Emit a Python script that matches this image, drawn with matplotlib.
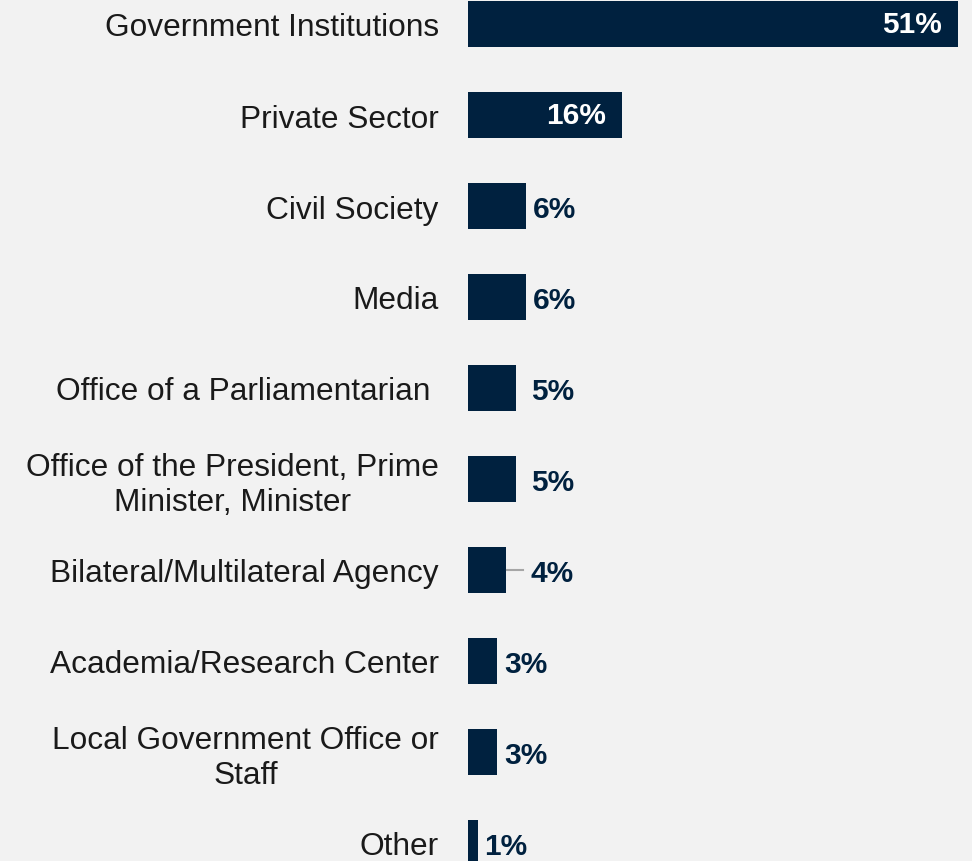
import matplotlib
matplotlib.use("Agg")
import matplotlib.pyplot as plt

categories = [
    "Government Institutions",
    "Private Sector",
    "Civil Society",
    "Media",
    "Office of a Parliamentarian ",
    "Office of the President, Prime\nMinister, Minister",
    "Bilateral/Multilateral Agency",
    "Academia/Research Center",
    "Local Government Office or\nStaff",
    "Other",
]
values = [51, 16, 6, 6, 5, 5, 4, 3, 3, 1]
value_labels = ["51%", "16%", "6%", "6%", "5%", "5%", "4%", "3%", "3%", "1%"]

BG = "#F2F2F2"
NAVY = "#00213F"
plt.rcParams["font.family"] = ["Liberation Sans", "DejaVu Sans"]

fig = plt.figure(figsize=(9.72, 8.62), dpi=100, facecolor=BG)
ax = fig.add_axes([468 / 972, 0, 490 / 972, 1], facecolor=BG)

ypos = list(range(len(categories)))
ax.barh(ypos, values, height=0.5, color=NAVY, edgecolor="none")

px = 51 / 490.0  # data units per pixel
for y, v, lab in zip(ypos, values, value_labels):
    if v >= 10:
        ax.text(v - 16 * px, y, lab, ha="right", va="center", color="white",
                fontsize=21.5, fontweight="bold")
    else:
        lx = v + 7 * px
        if 4 <= v < 6:
            lx = 6 + 5 * px
        if v == 4:
            ax.plot([v + 1 * px, lx - 8 * px], [y, y], color="#A6A6A6", lw=1.5)
        ax.text(lx, y + 0.03, lab, ha="left", va="center", color=NAVY,
                fontsize=21.5, fontweight="bold")

ax.set_xlim(0, 51)
top = -25 / 91
ax.set_ylim(top + 862 / 91, top)
ax.set_yticks(ypos)
ax.set_yticklabels(categories, fontsize=22.8, color="#1A1A1A",
                   multialignment="center", linespacing=1.2)
ax.tick_params(axis="y", length=0, pad=21)
ax.set_xticks([])
for s in ax.spines.values():
    s.set_visible(False)

fig.savefig("out.png", dpi=100, facecolor=BG)
